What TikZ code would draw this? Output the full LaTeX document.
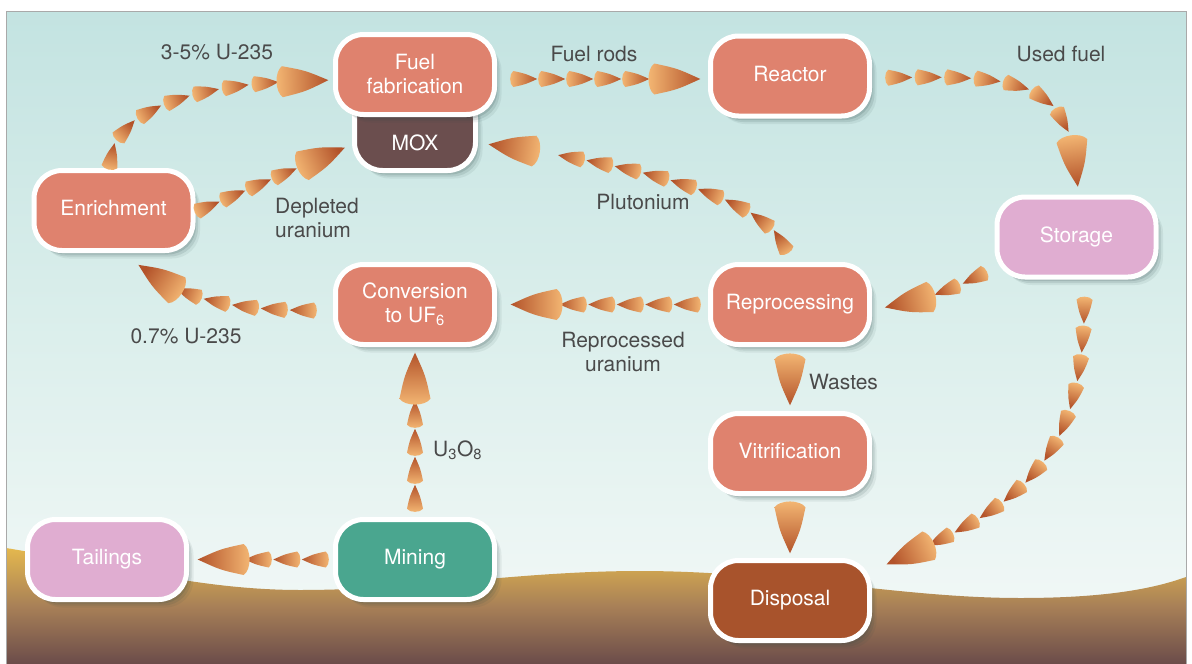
\documentclass[tikz,border=0pt]{standalone}
\usepackage{fontspec}
\setmainfont{TeX Gyre Heros}
\usetikzlibrary{decorations.markings,calc,shadows}

\definecolor{skytop}{HTML}{C3E3E1}
\definecolor{skymid}{HTML}{DCEFEC}
\definecolor{skybot}{HTML}{F5F9F8}
\definecolor{groundtop}{HTML}{E4B84E}
\definecolor{groundmid}{HTML}{A88057}
\definecolor{groundbot}{HTML}{6B4C4A}
\definecolor{salmon}{HTML}{DF826E}
\definecolor{moxc}{HTML}{6B4E4E}
\definecolor{pinkc}{HTML}{E0ADD1}
\definecolor{tealc}{HTML}{4AA68F}
\definecolor{dispc}{HTML}{A8532C}
\definecolor{labelc}{HTML}{4A4A4A}
\definecolor{conelight}{HTML}{F5B975}
\definecolor{conedark}{HTML}{B3532A}
\definecolor{shadowc}{HTML}{2F4A4A}
\definecolor{framec}{HTML}{A9A9A9}

% one cone, drawn at the current marking position, pointing along the path
\newcommand\conemark[2]{%
  \pgfgettransformentries{\ctA}{\ctB}{\ctC}{\ctD}{\ctE}{\ctF}%
  \pgfmathsetmacro\cang{atan2(\ctB,\ctA)}%
  \pgfmathsetmacro\csang{\cang-90}%
  \pgfmathsetmacro\cLt{0.55*#1}%
  \pgfmathsetmacro\cLb{0.45*#1}%
  \pgfmathsetmacro\cLbb{0.62*#1}%
  \pgfmathsetmacro\cLm{0.05*#1}%
  \pgfmathsetmacro\cW{0.5*#2}%
  \pgfmathsetmacro\cWm{0.34*#2}%
  \pgfmathsetmacro\cWb{0.32*#2}%
  \pgftransformresetnontranslations
  \shade[top color=conedark, bottom color=conelight, shading angle=\csang]
    (\cang:\cLt pt)
    .. controls ($(\cang:\cLm pt)+(\cang+90:\cWm pt)$) .. ($(\cang+180:\cLb pt)+(\cang+90:\cW pt)$)
    .. controls ($(\cang+180:\cLbb pt)+(\cang+90:\cWb pt)$) and ($(\cang+180:\cLbb pt)+(\cang-90:\cWb pt)$) .. ($(\cang+180:\cLb pt)+(\cang-90:\cW pt)$)
    .. controls ($(\cang:\cLm pt)+(\cang-90:\cWm pt)$) .. (\cang:\cLt pt) -- cycle;
}

\tikzset{
  stage/.style={rectangle, rounded corners=28pt, draw=white, line width=5pt,
    minimum width=159pt, minimum height=80pt, text=white, align=center,
    font=\fontsize{21}{24}\selectfont, inner sep=0pt,
    drop shadow={shadow xshift=7pt, shadow yshift=-8pt, opacity=0.08, fill=shadowc},
    drop shadow={shadow xshift=5pt, shadow yshift=-6pt, opacity=0.12, fill=shadowc},
    drop shadow={shadow xshift=3pt, shadow yshift=-4pt, opacity=0.16, fill=shadowc}},
  oneline/.style={text height=15pt, text depth=4.5pt},
  lbl/.style={text=labelc, font=\fontsize{21}{24}\selectfont, align=center, inner sep=0pt},
  cone chain/.style n args={4}{decoration={markings,
      mark=between positions #1 and #3 step #2 with {\conemark{24}{16}},
      mark=at position #4 with {\conemark{46}{31}}}, decorate},
  one cone/.style={decoration={markings,
      mark=at position #1 with {\conemark{46}{31}}}, decorate},
}

\begin{document}
\begin{tikzpicture}[x=1pt,y=-1pt]
\useasboundingbox (0,0) rectangle (1192,664);
\fill[white] (0,0) rectangle (1192,664);
\shade[top color=skytop, bottom color=skybot, middle color=skymid] (6,11) rectangle (1186,664);
\shade[top color=groundtop, bottom color=groundbot, middle color=groundmid]
  (6,548) .. controls (110,565) and (200,590) .. (300,590)
  .. controls (420,590) and (520,571) .. (640,571)
  .. controls (780,571) and (900,598) .. (1020,598)
  .. controls (1100,598) and (1150,590) .. (1186,577)
  -- (1186,664) -- (6,664) -- cycle;
\draw[framec, line width=1pt] (6,664) -- (6,11) -- (1186,11) -- (1186,664);

% stages
\node[stage, fill=moxc, minimum width=121pt, text height=39pt, text depth=0pt] (mox) at (415,130.5) {MOX};
\node[stage, fill=salmon] (fuel) at (415,74.5) {Fuel\\fabrication};
\node[stage, oneline, fill=salmon] (reac) at (790,76) {Reactor};
\node[stage, oneline, fill=salmon] (enr) at (113.5,210.5) {Enrichment};
\node[stage, oneline, fill=pinkc] (stor) at (1076.5,237) {Storage};
\node[stage, fill=salmon] (conv) at (415,304.5) {Conversion\\to UF\textsubscript{6}};
\node[stage, oneline, fill=salmon] (repro) at (790,304.5) {Reprocessing};
\node[stage, oneline, fill=salmon] (vitr) at (790,453.5) {Vitrification};
\node[stage, oneline, fill=dispc] (disp) at (790,600.5) {Disposal};
\node[stage, oneline, fill=pinkc] (tail) at (107,559.5) {Tailings};
\node[stage, oneline, fill=tealc] (mine) at (415,559.5) {Mining};

% connectors
\path[cone chain={12pt}{30pt}{-58pt}{-30pt}]
  ($(enr.north)+(-3,0)$) .. controls ($(enr.north)+(-3,-58)$) and ($(fuel.west)+(-138,6)$) .. ($(fuel.west)+(0,6)$);
\path[cone chain={27pt}{28pt}{-60pt}{-33pt}] ($(fuel.east)+(0,4.5)$) -- ($(reac.west)+(0,3)$);
\path[cone chain={27pt}{29.5pt}{-70pt}{-33pt}]
  ($(reac.east)+(0,2)$) .. controls ($(reac.east)+(138,0)$) and ($(stor.north)+(0,-124)$) .. (stor.north);
\path[cone chain={18pt}{30pt}{-70pt}{-38pt}]
  ($(stor.south west)+(-4,-10)$) .. controls ($(stor.south west)+(-25,2)$) and ($(repro.east)+(45,2)$) .. ($(repro.east)+(0,2)$);
\path[cone chain={31pt}{28.9pt}{-75pt}{-41pt}]
  ($(stor.south)+(8,0)$) .. controls ($(stor.south)+(10,170)$) and ($(disp.north east)+(168,-56)$) .. ($(disp.north east)+(0,12)$);
\path[cone chain={21pt}{28.5pt}{-55pt}{-39pt}] (repro.west) -- (conv.east);
\path[cone chain={22pt}{28.8pt}{-68pt}{-36pt}]
  ($(repro.north)+(-2,0)$) .. controls ($(repro.north)+(-7,-62)$) and ($(mox.east)+(165,34.5)$) .. ($(mox.east)+(0,12.5)$);
\path[cone chain={13pt}{28pt}{-60pt}{-33pt}] ($(enr.east)+(0,1.5)$) -- ($(mox.west)+(0,14)$);
\path[cone chain={30pt}{29pt}{-62pt}{-33pt}]
  ($(conv.west)+(0,6)$) .. controls ($(conv.west)+(-83,6.5)$) and ($(enr.south)+(61.5,52)$) .. ($(enr.south)+(21.5,4)$);
\path[cone chain={19pt}{28pt}{-62pt}{-31pt}] (mine.north) -- (conv.south);
\path[cone chain={18pt}{28.5pt}{-60pt}{-34pt}] (mine.west) -- (tail.east);
\path[one cone=33pt] (repro.south) -- (vitr.north);
\path[one cone=32pt] (vitr.south) -- (disp.north);

% labels
\node[lbl] (l1) at (217,52.5) {3-5\% U-235};
\node[lbl] (l2) at (594,54) {Fuel rods};
\node[lbl] (l3) at (1061,54) {Used fuel};
\node[lbl, align=left, anchor=west] (l4) at (275,217.5) {Depleted\\uranium};
\node[lbl] (l5) at (643,202.5) {Plutonium};
\node[lbl] (l6) at (186,336.5) {0.7\% U-235};
\node[lbl] (l7) at (623,351.5) {Reprocessed\\uranium};
\node[lbl, anchor=west] (l8) at (809,381.5) {Wastes};
\node[lbl, anchor=west] (l9) at (433,450) {U\textsubscript{3}O\textsubscript{8}};
\end{tikzpicture}
\end{document}
